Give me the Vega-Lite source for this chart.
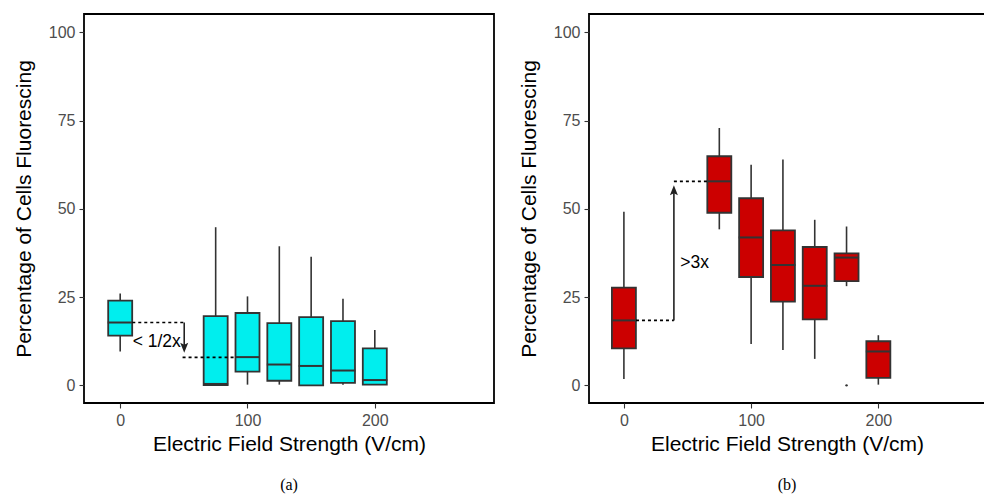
{
  "$schema": "https://vega.github.io/schema/vega-lite/v6.json",
  "padding": {"left": 12, "top": 13, "right": 0, "bottom": 0},
  "autosize": {"type": "pad"},
  "background": "white",
  "config": {
    "view": {"stroke": "black", "strokeWidth": 1.8},
    "font": "Liberation Sans",
    "axis": {"grid": false, "domain": false, "tickColor": "#333333", "tickSize": 5, "tickWidth": 1.1, "labelColor": "#4D4D4D", "labelFontSize": 16, "labelFont": "Liberation Sans", "titleFont": "Liberation Sans", "titleFontSize": 21, "titleFontWeight": "normal", "titleColor": "black", "labelPadding": 4},
    "axisY": {"titlePadding": 14},
    "axisX": {"titlePadding": 5},
    "title": {"font": "Liberation Serif", "fontSize": 16, "fontWeight": "normal", "color": "black", "orient": "bottom", "anchor": "middle", "offset": 23},
    "concat": {"spacing": 95}
  },
  "datasets": {
    "a": [
      {"x": 0, "lo": 9.6, "q1": 14.1, "med": 17.8, "q3": 24.0, "hi": 26.0},
      {"x": 75, "lo": 0.0, "q1": 0.1, "med": 0.4, "q3": 19.6, "hi": 44.8},
      {"x": 100, "lo": 0.2, "q1": 3.9, "med": 8.0, "q3": 20.5, "hi": 25.2},
      {"x": 125, "lo": 0.2, "q1": 1.3, "med": 5.9, "q3": 17.6, "hi": 39.4},
      {"x": 150, "lo": 0.0, "q1": 0.0, "med": 5.5, "q3": 19.3, "hi": 36.4},
      {"x": 175, "lo": 0.2, "q1": 0.7, "med": 4.2, "q3": 18.2, "hi": 24.5},
      {"x": 200, "lo": 0.2, "q1": 0.2, "med": 1.5, "q3": 10.5, "hi": 15.7}
    ],
    "b": [
      {"x": 0, "lo": 1.8, "q1": 10.5, "med": 18.4, "q3": 27.7, "hi": 49.2},
      {"x": 75, "lo": 44.2, "q1": 48.9, "med": 57.8, "q3": 64.9, "hi": 72.9},
      {"x": 100, "lo": 11.7, "q1": 30.7, "med": 41.9, "q3": 53.0, "hi": 62.5},
      {"x": 125, "lo": 10.0, "q1": 23.7, "med": 34.1, "q3": 43.9, "hi": 64.0},
      {"x": 150, "lo": 7.5, "q1": 18.7, "med": 28.2, "q3": 39.2, "hi": 46.9},
      {"x": 175, "lo": 28.1, "q1": 29.5, "med": 36.2, "q3": 37.4, "hi": 45.0},
      {"x": 200, "lo": 0.2, "q1": 2.1, "med": 9.6, "q3": 12.5, "hi": 14.2}
    ],
    "bOut": [{"x": 175, "y": 0.0}],
    "aSeg": [{"x": 9.5, "x2": 50.3, "y": 17.8}, {"x": 49, "x2": 90, "y": 7.9}],
    "aArrow": [{"x": 50.3, "y": 17.8, "y2": 10.5, "tip": 9.2}],
    "aText": [{"x": 28.7, "y": 12.2, "label": "< 1/2x"}],
    "bSeg": [{"x": 9.5, "x2": 39.3, "y": 18.4}, {"x": 39.3, "x2": 65.4, "y": 57.8}],
    "bArrow": [{"x": 39.3, "y": 18.4, "y2": 55.5, "tip": 56.7}],
    "bText": [{"x": 55.6, "y": 34.6, "label": ">3x"}]
  },
  "bounds": "flush",
  "hconcat": [
    {
      "width": 410, "height": 389,
      "title": "(a)",
      "layer": [
        {"data": {"name": "a"}, "mark": {"type": "rule", "color": "#333333", "strokeWidth": 1.6},
         "encoding": {
           "x": {"field": "x", "type": "quantitative", "title": "Electric Field Strength (V/cm)", "scale": {"domain": [-24.5, 289.7], "nice": false, "zero": false}, "axis": {"values": [0, 100, 200]}},
           "y": {"field": "lo", "type": "quantitative", "title": "Percentage of Cells Fluorescing", "scale": {"domain": [-5, 105.2], "nice": false, "zero": false}, "axis": {"values": [0, 25, 50, 75, 100]}},
           "y2": {"field": "hi"}}},
        {"data": {"name": "a"}, "mark": {"type": "bar", "size": 24, "fill": "#00EEEE", "stroke": "#333333", "strokeWidth": 1.8},
         "encoding": {
           "x": {"field": "x", "type": "quantitative", "title": "Electric Field Strength (V/cm)", "scale": {"domain": [-24.5, 289.7], "nice": false, "zero": false}},
           "y": {"field": "q1", "type": "quantitative", "title": "Percentage of Cells Fluorescing", "scale": {"domain": [-5, 105.2], "nice": false, "zero": false}},
           "y2": {"field": "q3"}}},
        {"data": {"name": "a"}, "mark": {"type": "tick", "orient": "horizontal", "size": 25, "thickness": 2, "color": "#333333", "opacity": 1},
         "encoding": {
           "x": {"field": "x", "type": "quantitative", "title": "Electric Field Strength (V/cm)", "scale": {"domain": [-24.5, 289.7], "nice": false, "zero": false}},
           "y": {"field": "med", "type": "quantitative", "title": "Percentage of Cells Fluorescing", "scale": {"domain": [-5, 105.2], "nice": false, "zero": false}}}},
        {"data": {"name": "aSeg"}, "mark": {"type": "rule", "color": "black", "strokeWidth": 1.7, "strokeDash": [3, 3]},
         "encoding": {
           "x": {"field": "x", "type": "quantitative", "title": "Electric Field Strength (V/cm)", "scale": {"domain": [-24.5, 289.7], "nice": false, "zero": false}},
           "x2": {"field": "x2"},
           "y": {"field": "y", "type": "quantitative", "title": "Percentage of Cells Fluorescing", "scale": {"domain": [-5, 105.2], "nice": false, "zero": false}}}},
        {"data": {"name": "aArrow"}, "mark": {"type": "rule", "color": "#222222", "strokeWidth": 1.6},
         "encoding": {
           "x": {"field": "x", "type": "quantitative", "title": "Electric Field Strength (V/cm)", "scale": {"domain": [-24.5, 289.7], "nice": false, "zero": false}},
           "y": {"field": "y", "type": "quantitative", "title": "Percentage of Cells Fluorescing", "scale": {"domain": [-5, 105.2], "nice": false, "zero": false}},
           "y2": {"field": "y2"}}},
        {"data": {"name": "aArrow"}, "mark": {"type": "point", "shape": "M0,0L-0.8,-2L0,-1.6L0.8,-2Z", "size": 100, "filled": true, "color": "#222222", "opacity": 1},
         "encoding": {
           "x": {"field": "x", "type": "quantitative", "title": "Electric Field Strength (V/cm)", "scale": {"domain": [-24.5, 289.7], "nice": false, "zero": false}},
           "y": {"field": "tip", "type": "quantitative", "title": "Percentage of Cells Fluorescing", "scale": {"domain": [-5, 105.2], "nice": false, "zero": false}}}},
        {"data": {"name": "aText"}, "mark": {"type": "text", "fontSize": 17.5, "font": "Liberation Sans", "color": "black", "align": "center", "baseline": "middle"},
         "encoding": {
           "x": {"field": "x", "type": "quantitative", "title": "Electric Field Strength (V/cm)", "scale": {"domain": [-24.5, 289.7], "nice": false, "zero": false}},
           "y": {"field": "y", "type": "quantitative", "title": "Percentage of Cells Fluorescing", "scale": {"domain": [-5, 105.2], "nice": false, "zero": false}},
           "text": {"field": "label"}}}
      ]
    },
    {
      "width": 396, "height": 389,
      "title": "(b)",
      "layer": [
        {"data": {"name": "b"}, "mark": {"type": "rule", "color": "#333333", "strokeWidth": 1.6},
         "encoding": {
           "x": {"field": "x", "type": "quantitative", "title": "Electric Field Strength (V/cm)", "scale": {"domain": [-23.5, 279.9], "nice": false, "zero": false}, "axis": {"values": [0, 100, 200]}},
           "y": {"field": "lo", "type": "quantitative", "title": "Percentage of Cells Fluorescing", "scale": {"domain": [-5, 105.2], "nice": false, "zero": false}, "axis": {"values": [0, 25, 50, 75, 100]}},
           "y2": {"field": "hi"}}},
        {"data": {"name": "b"}, "mark": {"type": "bar", "size": 24, "fill": "#CC0000", "stroke": "#333333", "strokeWidth": 1.8},
         "encoding": {
           "x": {"field": "x", "type": "quantitative", "title": "Electric Field Strength (V/cm)", "scale": {"domain": [-23.5, 279.9], "nice": false, "zero": false}},
           "y": {"field": "q1", "type": "quantitative", "title": "Percentage of Cells Fluorescing", "scale": {"domain": [-5, 105.2], "nice": false, "zero": false}},
           "y2": {"field": "q3"}}},
        {"data": {"name": "b"}, "mark": {"type": "tick", "orient": "horizontal", "size": 25, "thickness": 2, "color": "#333333", "opacity": 1},
         "encoding": {
           "x": {"field": "x", "type": "quantitative", "title": "Electric Field Strength (V/cm)", "scale": {"domain": [-23.5, 279.9], "nice": false, "zero": false}},
           "y": {"field": "med", "type": "quantitative", "title": "Percentage of Cells Fluorescing", "scale": {"domain": [-5, 105.2], "nice": false, "zero": false}}}},
        {"data": {"name": "bOut"}, "mark": {"type": "point", "shape": "circle", "size": 6, "filled": true, "color": "#333333", "opacity": 1},
         "encoding": {
           "x": {"field": "x", "type": "quantitative", "title": "Electric Field Strength (V/cm)", "scale": {"domain": [-23.5, 279.9], "nice": false, "zero": false}},
           "y": {"field": "y", "type": "quantitative", "title": "Percentage of Cells Fluorescing", "scale": {"domain": [-5, 105.2], "nice": false, "zero": false}}}},
        {"data": {"name": "bSeg"}, "mark": {"type": "rule", "color": "black", "strokeWidth": 1.7, "strokeDash": [3, 3]},
         "encoding": {
           "x": {"field": "x", "type": "quantitative", "title": "Electric Field Strength (V/cm)", "scale": {"domain": [-23.5, 279.9], "nice": false, "zero": false}},
           "x2": {"field": "x2"},
           "y": {"field": "y", "type": "quantitative", "title": "Percentage of Cells Fluorescing", "scale": {"domain": [-5, 105.2], "nice": false, "zero": false}}}},
        {"data": {"name": "bArrow"}, "mark": {"type": "rule", "color": "#222222", "strokeWidth": 1.6},
         "encoding": {
           "x": {"field": "x", "type": "quantitative", "title": "Electric Field Strength (V/cm)", "scale": {"domain": [-23.5, 279.9], "nice": false, "zero": false}},
           "y": {"field": "y", "type": "quantitative", "title": "Percentage of Cells Fluorescing", "scale": {"domain": [-5, 105.2], "nice": false, "zero": false}},
           "y2": {"field": "y2"}}},
        {"data": {"name": "bArrow"}, "mark": {"type": "point", "shape": "M0,0L-0.8,2L0,1.6L0.8,2Z", "size": 100, "filled": true, "color": "#222222", "opacity": 1},
         "encoding": {
           "x": {"field": "x", "type": "quantitative", "title": "Electric Field Strength (V/cm)", "scale": {"domain": [-23.5, 279.9], "nice": false, "zero": false}},
           "y": {"field": "tip", "type": "quantitative", "title": "Percentage of Cells Fluorescing", "scale": {"domain": [-5, 105.2], "nice": false, "zero": false}}}},
        {"data": {"name": "bText"}, "mark": {"type": "text", "fontSize": 17.5, "font": "Liberation Sans", "color": "black", "align": "center", "baseline": "middle"},
         "encoding": {
           "x": {"field": "x", "type": "quantitative", "title": "Electric Field Strength (V/cm)", "scale": {"domain": [-23.5, 279.9], "nice": false, "zero": false}},
           "y": {"field": "y", "type": "quantitative", "title": "Percentage of Cells Fluorescing", "scale": {"domain": [-5, 105.2], "nice": false, "zero": false}},
           "text": {"field": "label"}}}
      ]
    }
  ]
}
